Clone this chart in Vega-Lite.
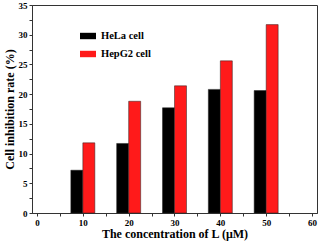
{
  "$schema": "https://vega.github.io/schema/vega-lite/v6.json",
  "width": 285,
  "height": 208,
  "autosize": {"type": "none"},
  "padding": {"left": 32, "top": 5, "right": 8, "bottom": 31},
  "background": "white",
  "config": {
    "view": {"stroke": "#333", "strokeWidth": 1},
    "font": "Liberation Serif",
    "axis": {
      "grid": false,
      "domainColor": "#333",
      "tickColor": "#333",
      "tickSize": 3,
      "labelFont": "Liberation Serif",
      "labelFontWeight": "bold",
      "labelFontSize": 9,
      "labelColor": "black",
      "titleFont": "Liberation Serif",
      "titleFontWeight": "bold",
      "titleFontSize": 12,
      "titleColor": "black"
    },
    "legend": {
      "labelFont": "Liberation Serif",
      "labelFontWeight": "bold",
      "labelFontSize": 10.5,
      "labelColor": "black"
    }
  },
  "data": {
    "values": [
      {"conc": 10, "cell": "HeLa cell", "rate": 7.2},
      {"conc": 20, "cell": "HeLa cell", "rate": 11.7},
      {"conc": 30, "cell": "HeLa cell", "rate": 17.7},
      {"conc": 40, "cell": "HeLa cell", "rate": 20.8},
      {"conc": 50, "cell": "HeLa cell", "rate": 20.6},
      {"conc": 10, "cell": "HepG2 cell", "rate": 11.8},
      {"conc": 20, "cell": "HepG2 cell", "rate": 18.8},
      {"conc": 30, "cell": "HepG2 cell", "rate": 21.4},
      {"conc": 40, "cell": "HepG2 cell", "rate": 25.6},
      {"conc": 50, "cell": "HepG2 cell", "rate": 31.7}
    ]
  },
  "encoding": {
    "x": {
      "field": "conc",
      "type": "quantitative",
      "scale": {"domain": [0, 60], "nice": false},
      "axis": {
        "title": "The concentration of L (μM)",
        "values": [0, 5, 10, 15, 20, 25, 30, 35, 40, 45, 50, 55, 60],
        "labelExpr": "datum.value % 10 == 0 ? datum.label : ''",
        "labelPadding": 2,
        "titlePadding": 1
      }
    },
    "y": {
      "field": "rate",
      "type": "quantitative",
      "scale": {"domain": [0, 35], "nice": false},
      "axis": {
        "title": "Cell inhibition rate (%)",
        "values": [0, 2.5, 5, 7.5, 10, 12.5, 15, 17.5, 20, 22.5, 25, 27.5, 30, 32.5, 35],
        "labelExpr": "datum.value % 5 == 0 ? datum.label : ''",
        "labelPadding": 2,
        "titlePadding": 2
      }
    },
    "color": {
      "field": "cell",
      "type": "nominal",
      "scale": {"domain": ["HeLa cell", "HepG2 cell"], "range": ["#000000", "#ff1a1a"]},
      "legend": {
        "title": null,
        "orient": "none",
        "legendX": 48,
        "legendY": 23,
        "symbolType": "M-1,-0.4H1V0.4H-1Z",
        "symbolSize": 256,
        "symbolStrokeWidth": 0,
        "rowPadding": 4,
        "labelOffset": 5
      }
    }
  },
  "layer": [
    {
      "transform": [{"filter": "datum.cell == 'HeLa cell'"}],
      "mark": {"type": "bar", "width": 12, "xOffset": -6, "stroke": "#222", "strokeWidth": 0.5}
    },
    {
      "transform": [{"filter": "datum.cell == 'HepG2 cell'"}],
      "mark": {"type": "bar", "width": 12, "xOffset": 6, "stroke": "#222", "strokeWidth": 0.5}
    }
  ]
}
